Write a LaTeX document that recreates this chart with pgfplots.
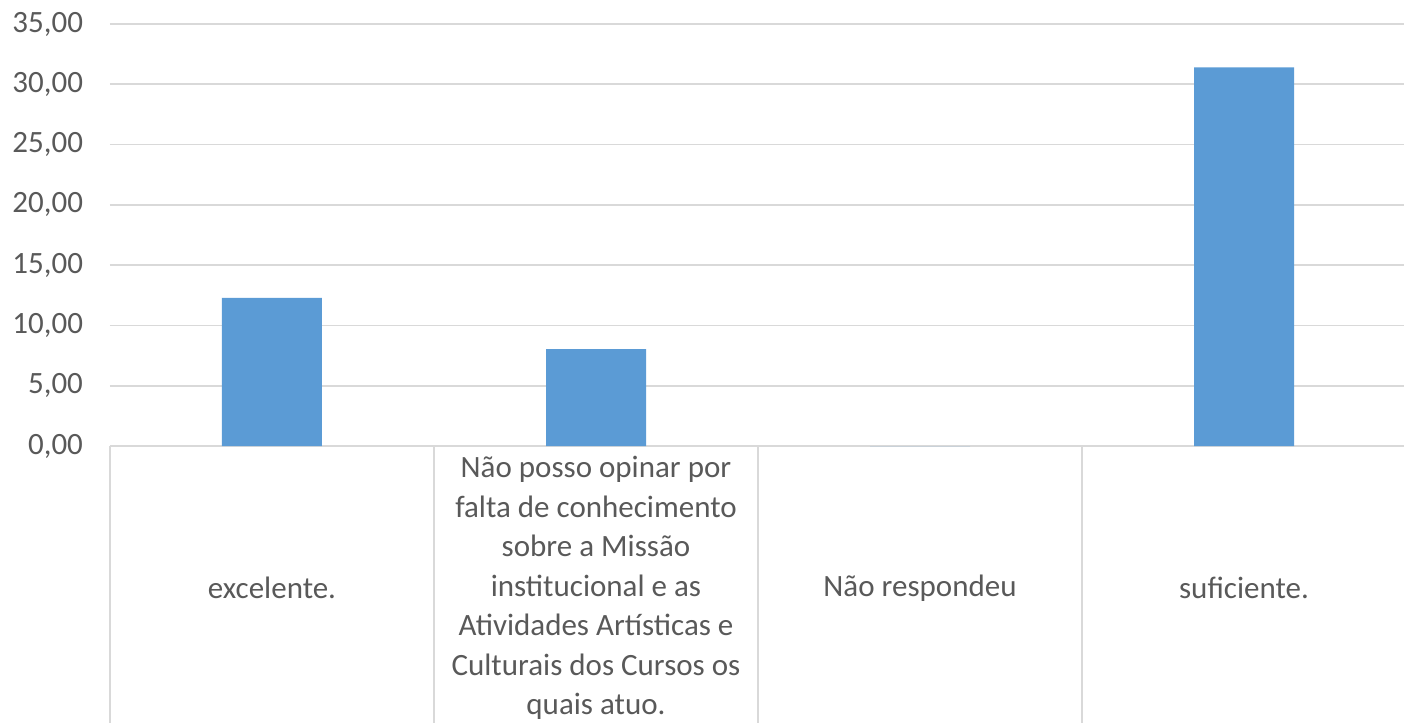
\documentclass[border=0pt]{standalone}
\usepackage{pgfplots}
\pgfplotsset{compat=1.18}
\usepackage{fontspec}
\setmainfont{Carlito}
\definecolor{barblue}{HTML}{5B9BD5}
\definecolor{gridgray}{HTML}{D9D9D9}
\definecolor{txtgray}{HTML}{595959}

\begin{document}
\begin{tikzpicture}
\begin{axis}[
    scale only axis, width=648pt, height=211pt,
    xmin=-0.5, xmax=3.5, ymin=0, ymax=35,
    ytick={0,5,...,35},
    xtick={0,1,2,3},
    xticklabels={excelente.,
      {Não posso opinar por\\falta de conhecimento\\sobre a Missão\\institucional e as\\Atividades Artísticas e\\Culturais dos Cursos os\\quais atuo.},
      Não respondeu, suficiente.},
    xticklabel style={align=center, anchor=center, yshift=-71pt,
      font=\fontsize{15.5}{19.75}\selectfont, text=txtgray},
    yticklabel style={anchor=east, xshift=-10pt,
      font=\fontsize{15.5}{19}\selectfont, text=txtgray,
      /pgf/number format/.cd, fixed, fixed zerofill, precision=2,
      use comma, assume math mode=true},
    major tick length=0pt,
    axis line style={draw=none},
    tick style={draw=none},
    ymajorgrids, grid style={gridgray, line width=0.8pt},
    clip=false,
    ybar, bar width=50pt,
  ]
  \addplot[fill=barblue, draw=none]
    coordinates {(0,12.28) (1,8.03) (2,0) (3,31.4)};
  \draw[gridgray, line width=0.8pt] (axis cs:-0.5,0) -- ++(0pt,-138.5pt);
  \draw[gridgray, line width=0.8pt] (axis cs:0.5,0) -- ++(0pt,-138.5pt);
  \draw[gridgray, line width=0.8pt] (axis cs:1.5,0) -- ++(0pt,-138.5pt);
  \draw[gridgray, line width=0.8pt] (axis cs:2.5,0) -- ++(0pt,-138.5pt);
\end{axis}
\pgfresetboundingbox
\path[use as bounding box] (-55pt,-138.5pt) rectangle (647pt,223pt);
\end{tikzpicture}
\end{document}
